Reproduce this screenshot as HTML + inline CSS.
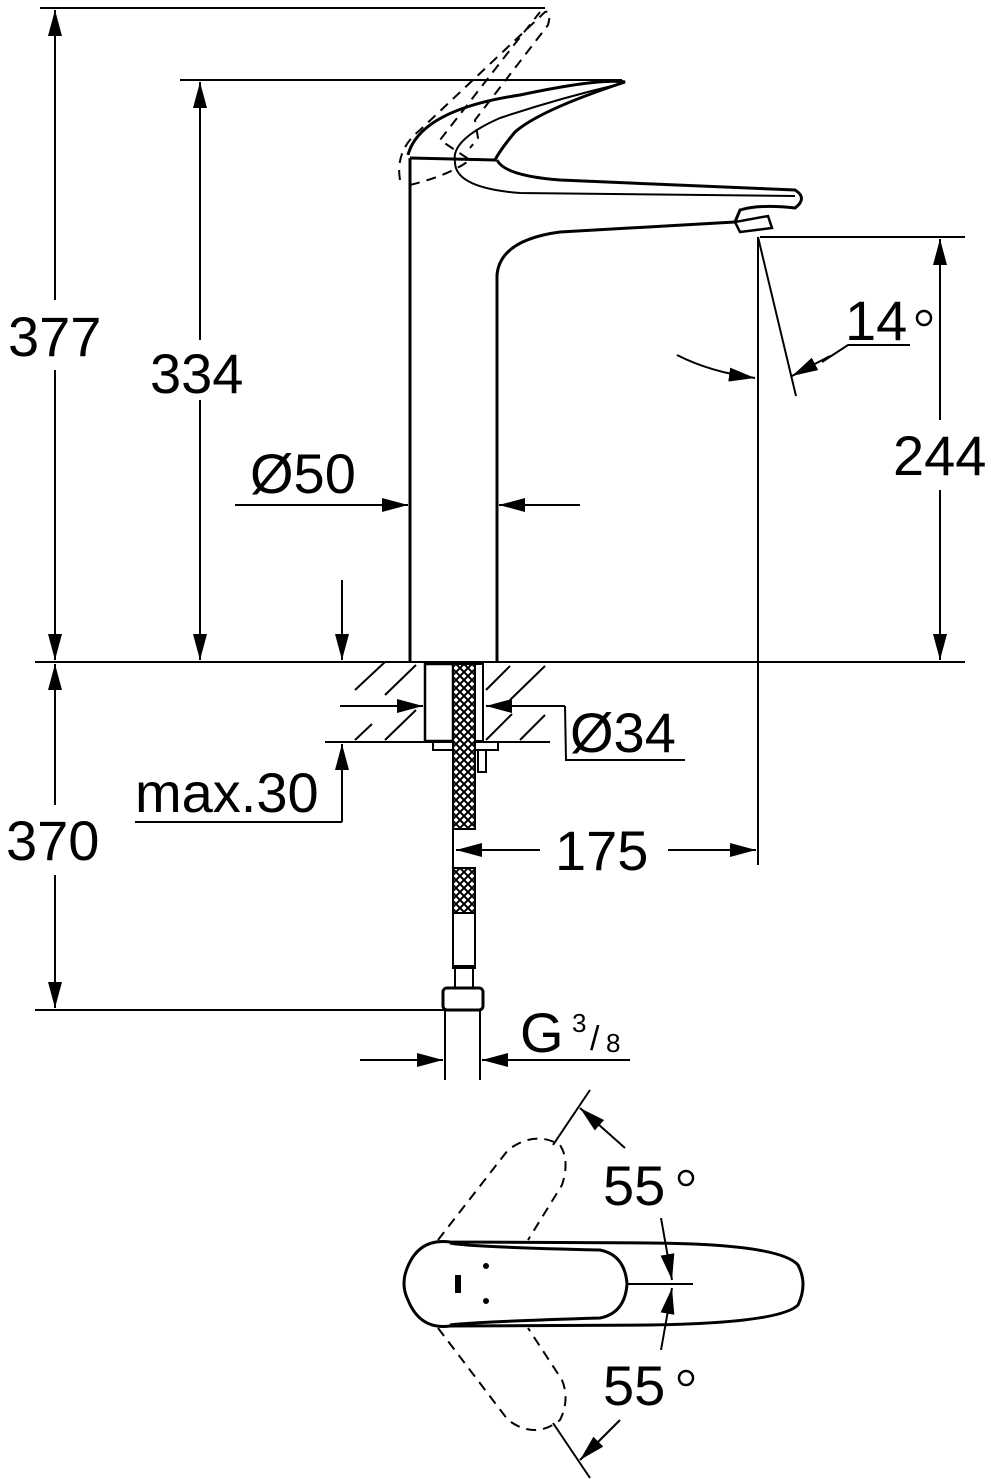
<!DOCTYPE html>
<html><head><meta charset="utf-8"><style>
html,body{margin:0;padding:0;background:#fff}
svg{display:block}
text{font-family:"Liberation Sans",sans-serif;font-size:56px;fill:#000}
</style></head><body>
<svg width="991" height="1479" viewBox="0 0 991 1479" xmlns="http://www.w3.org/2000/svg">
<defs>
<marker id="a" markerUnits="userSpaceOnUse" markerWidth="28" markerHeight="14" refX="26" refY="7" orient="auto">
<path d="M0,0 L26,7 L0,14 Z" fill="#000"/></marker>
<pattern id="x" width="8" height="8" patternUnits="userSpaceOnUse">
<rect width="8" height="8" fill="#fff"/><path d="M0,0L8,8M8,0L0,8" stroke="#000" stroke-width="2"/></pattern>
</defs>
<g stroke="#000" fill="none" stroke-width="2">
<line x1="40" y1="8" x2="545" y2="8"/>
<line x1="180" y1="80" x2="622" y2="80"/>
<line x1="35" y1="662" x2="965" y2="662"/>
<line x1="760" y1="237" x2="965" y2="237"/>
<line x1="35" y1="1010" x2="450" y2="1010"/>
<line x1="55" y1="300" x2="55" y2="10" marker-end="url(#a)"/>
<line x1="55" y1="370" x2="55" y2="660" marker-end="url(#a)"/>
<line x1="55" y1="805" x2="55" y2="664" marker-end="url(#a)"/>
<line x1="55" y1="875" x2="55" y2="1008" marker-end="url(#a)"/>
<line x1="200" y1="340" x2="200" y2="82" marker-end="url(#a)"/>
<line x1="200" y1="400" x2="200" y2="660" marker-end="url(#a)"/>
<line x1="940" y1="420" x2="940" y2="239" marker-end="url(#a)"/>
<line x1="940" y1="490" x2="940" y2="660" marker-end="url(#a)"/>
<line x1="235" y1="505" x2="408" y2="505" marker-end="url(#a)"/>
<line x1="580" y1="505" x2="499" y2="505" marker-end="url(#a)"/>
<line x1="342" y1="580" x2="342" y2="660" marker-end="url(#a)"/>
<line x1="342" y1="822" x2="342" y2="744" marker-end="url(#a)"/>
<line x1="135" y1="822" x2="342" y2="822"/>
<line x1="410" y1="158" x2="410" y2="662" stroke-width="3"/>
<path d="M497 662 L497 275 Q500 240 560 232 L735 222" stroke-width="3"/>
<path d="M410 158 L495 160 Q500 150 515 132 Q540 110 625 82 Q600 78 520 95 Q420 110 408 155" stroke-width="3"/>
<path d="M455 162 Q450 140 500 118 Q560 98 620 84" stroke-width="2"/>
<path d="M497 160 Q505 176 560 180 L795 190 Q808 198 795 208 Q760 204 740 210 L735 222" stroke-width="3"/>
<path d="M455 162 Q455 188 520 193 L795 196" stroke-width="2"/>
<path d="M735 222 L740 232 L772 228 L768 216 Z" stroke-width="2.5"/>
<g stroke-dasharray="10,7" stroke-width="2">
<path d="M400 180 Q395 150 420 130 L545 12 Q552 10 548 25 L475 120 L478 138 L470 148"/>
<path d="M410 185 Q450 175 470 160 L440 140 L510 50 L540 12"/>
</g>
<line x1="325" y1="742" x2="550" y2="742"/>
<g stroke-width="2">
<line x1="355" y1="690" x2="385" y2="662"/><line x1="385" y1="695" x2="416" y2="665"/>
<line x1="355" y1="740" x2="372" y2="724"/><line x1="385" y1="740" x2="416" y2="710"/>
<line x1="486" y1="690" x2="510" y2="666"/><line x1="510" y1="700" x2="545" y2="666"/>
<line x1="486" y1="740" x2="512" y2="714"/><line x1="520" y1="740" x2="545" y2="715"/>
</g>
<rect x="425" y="664" width="28" height="77" stroke-width="2.5"/>
<rect x="475" y="664" width="8" height="77" stroke-width="2"/>
<rect x="433" y="742" width="65" height="8" stroke-width="2"/>
<rect x="478" y="750" width="8" height="22" stroke-width="2"/>
<rect x="453" y="664" width="22" height="165" fill="url(#x)" stroke-width="2"/>
<rect x="453" y="868" width="22" height="45" fill="url(#x)" stroke-width="2"/>
<line x1="453" y1="829" x2="453" y2="868"/>
<rect x="453" y="913" width="22" height="55"/>
<rect x="455" y="966" width="18" height="22"/>
<rect x="443" y="988" width="40" height="22" rx="4" stroke-width="3"/>
<line x1="445" y1="1010" x2="445" y2="1080"/><line x1="480" y1="1010" x2="480" y2="1080"/>
<line x1="340" y1="706" x2="423" y2="706" marker-end="url(#a)"/>
<line x1="565" y1="706" x2="486" y2="706" marker-end="url(#a)"/>
<polyline points="565,706 566,760 685,760"/>
<line x1="540" y1="850" x2="456" y2="850" marker-end="url(#a)"/>
<line x1="668" y1="850" x2="756" y2="850" marker-end="url(#a)"/>
<line x1="758" y1="237" x2="758" y2="865"/>
<line x1="758" y1="237" x2="796" y2="396"/>
<path d="M677 355 Q710 372 755 378" marker-end="url(#a)"/>
<polyline points="910,345 848,345 822,362"/>
<line x1="830" y1="356" x2="792" y2="376" marker-end="url(#a)"/>
<line x1="360" y1="1060" x2="443" y2="1060" marker-end="url(#a)"/>
<line x1="630" y1="1060" x2="482" y2="1060" marker-end="url(#a)"/>
<path d="M450 1242 L650 1243 Q780 1244 798 1265 Q808 1284 798 1305 Q780 1323 650 1325 L450 1326 Q420 1330 408 1300 Q400 1284 408 1266 Q420 1238 450 1242Z" stroke-width="3"/>
<path d="M450 1243 Q470 1247 600 1250 Q625 1255 627 1284 Q625 1313 600 1318 Q470 1322 450 1325" stroke-width="3"/>
<path d="M458 1275 L458 1293" stroke-width="6"/>
<circle cx="486" cy="1266" r="2" fill="#000"/><circle cx="486" cy="1301" r="2" fill="#000"/>
<line x1="627" y1="1284" x2="693" y2="1284"/>
<g stroke-dasharray="10,7" stroke-width="2">
<path d="M438 1240 L508 1150 Q535 1130 560 1145 Q570 1160 562 1185 L528 1240"/>
<path d="M438 1328 L508 1420 Q535 1440 560 1420 Q570 1400 562 1380 L528 1328"/>
</g>
<line x1="553" y1="1145" x2="590" y2="1090"/>
<line x1="625" y1="1148" x2="580" y2="1108" marker-end="url(#a)"/>
<line x1="553" y1="1423" x2="590" y2="1478"/>
<line x1="620" y1="1420" x2="580" y2="1460" marker-end="url(#a)"/>
<line x1="661" y1="1218" x2="672" y2="1280" marker-end="url(#a)"/>
<line x1="661" y1="1350" x2="672" y2="1288" marker-end="url(#a)"/>
<circle cx="924" cy="318" r="7" stroke-width="2.5"/>
<circle cx="686" cy="1178" r="7" stroke-width="2.5"/>
<circle cx="686" cy="1378" r="7" stroke-width="2.5"/>
</g>
<g>
<text x="8" y="356">377</text>
<text x="6" y="860">370</text>
<text x="150" y="393">334</text>
<text x="250" y="493">Ø50</text>
<text x="135" y="812">max.30</text>
<text x="570" y="752">Ø34</text>
<text x="555" y="870">175</text>
<text x="893" y="475">244</text>
<text x="845" y="340">14</text>
<text x="520" y="1052">G</text>
<text x="572" y="1032" style="font-size:26px">3</text>
<text x="590" y="1050" style="font-size:34px">/</text>
<text x="606" y="1052" style="font-size:26px">8</text>
<text x="603" y="1205">55</text>
<text x="603" y="1405">55</text>
</g>
</svg>
</body></html>
